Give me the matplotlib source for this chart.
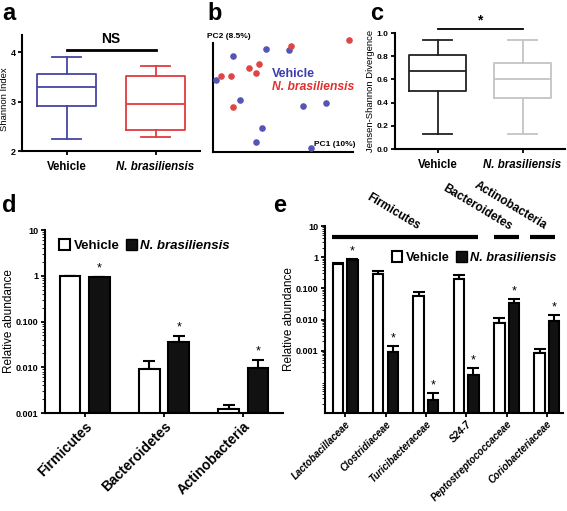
import numpy as np
import matplotlib
matplotlib.use("Agg")
import matplotlib.pyplot as plt
from matplotlib.patches import Patch

plt.rcParams['font.family'] = ['Liberation Sans', 'DejaVu Sans']
plt.rcParams['font.weight'] = 'bold'
plt.rcParams['axes.linewidth'] = 1.5

groups = ["Vehicle", "N. brasiliensis"]

# panel a: Shannon index box stats (whislo, q1, med, q3, whishi)
shannon_vehicle = [2.25, 2.92, 3.30, 3.55, 3.90]
shannon_nb = [2.28, 2.42, 2.96, 3.52, 3.72]

# panel b: PCoA points (PC1, PC2), scaled 0-1
pc_vehicle_x = [0.02, 0.14, 0.38, 0.54, 0.19, 0.35, 0.31, 0.64, 0.81, 0.70]
pc_vehicle_y = [0.64, 0.85, 0.92, 0.91, 0.46, 0.21, 0.09, 0.41, 0.44, 0.04]
pc_nb_x = [0.06, 0.13, 0.26, 0.33, 0.31, 0.56, 0.97, 0.14]
pc_nb_y = [0.68, 0.68, 0.75, 0.78, 0.70, 0.94, 1.00, 0.40]

# panel c: Jensen-Shannon divergence box stats
jsd_vehicle = [0.13, 0.50, 0.67, 0.81, 0.94]
jsd_nb = [0.13, 0.44, 0.60, 0.745, 0.94]

# panel d: phyla
phyla = ["Firmicutes", "Bacteroidetes", "Actinobacteria"]
phyla_vehicle = [1.0, 0.009, 0.0012]
phyla_vehicle_err = [0.0, 0.0045, 0.0003]
phyla_nb = [0.93, 0.036, 0.0097]
phyla_nb_err = [0.03, 0.012, 0.0048]

# panel e: families
families = ["Lactobacillaceae", "Clostridiaceae", "Turicibacteraceae", "S24-7",
            "Peptostreptococcaceae", "Coriobacteriaceae"]
fam_vehicle = [0.62, 0.28, 0.055, 0.20, 0.008, 0.00085]
fam_vehicle_err = [0.04, 0.09, 0.02, 0.06, 0.0035, 0.00025]
fam_nb = [0.82, 0.0009, 0.000026, 0.00017, 0.033, 0.0092]
fam_nb_err = [0.06, 0.0005, 0.000019, 0.00011, 0.013, 0.0048]

fig = plt.figure(figsize=(5.67, 5.11), dpi=100)
W, H = 567, 511


def add_ax(x0, y0, x1, y1):
    return fig.add_axes([x0 / W, 1 - y1 / H, (x1 - x0) / W, (y1 - y0) / H])


def style(ax):
    ax.spines['top'].set_visible(False)
    ax.spines['right'].set_visible(False)
    ax.tick_params(width=1.3, length=3, labelsize=7, pad=1.5)


def boxes(ax, stats, colors):
    st = [dict(whislo=s[0], q1=s[1], med=s[2], q3=s[3], whishi=s[4], fliers=[]) for s in stats]
    for i, (s, c) in enumerate(zip(st, colors)):
        ax.bxp([s], positions=[i], widths=0.66, showfliers=False,
               boxprops=dict(color=c, lw=1.3), medianprops=dict(color=c, lw=1.3),
               whiskerprops=dict(color=c, lw=1.3), capprops=dict(color=c, lw=1.3))
    ax.set_xlim(-0.5, 1.5)
    ax.set_xticks([0, 1])
    ax.set_xticklabels(groups, fontsize=8.3)
    ax.tick_params(axis='x', pad=4)
    ax.get_xticklabels()[1].set_style('italic')


# ---- a
ax = add_ax(22, 35, 200, 151)
style(ax)
boxes(ax, [shannon_vehicle, shannon_nb], ['#4545a5', '#e23b3b'])
ax.set_ylim(2, 4.35)
ax.set_yticks([2, 3, 4])
ax.tick_params(axis='y', labelsize=6.5)
ax.set_ylabel("Shannon Index", fontsize=6.8)
ax.yaxis.set_label_coords(-0.072, 0.45)
ax.plot([0, 1], [4.05, 4.05], color='k', lw=2, clip_on=False)
ax.text(0.5, 4.12, "NS", ha='center', va='bottom', fontsize=10)

# ---- b
ax = add_ax(213, 43, 353, 152)
ax.scatter(pc_vehicle_x, pc_vehicle_y, s=14, color='#5555b5', clip_on=False, zorder=3)
ax.scatter(pc_nb_x, pc_nb_y, s=14, color='#e04545', clip_on=False, zorder=3)
ax.set_xlim(0, 1)
ax.set_ylim(0, 0.97)
ax.spines['top'].set_visible(False)
ax.spines['right'].set_visible(False)
ax.set_xticks([])
ax.set_yticks([])
ax.text(-0.04, 1.03, "PC2 (8.5%)", transform=ax.transAxes, fontsize=6, ha='left', va='bottom')
ax.text(1.02, 0.04, "PC1 (10%)", transform=ax.transAxes, fontsize=6, ha='right', va='bottom')
ax.text(0.42, 0.69, "Vehicle", transform=ax.transAxes, fontsize=9, color='#3c3caa')
ax.text(0.42, 0.57, "N. brasiliensis", transform=ax.transAxes, fontsize=8.7,
        color='#e03030', style='italic')

# ---- c
ax = add_ax(395, 33, 565, 149)
style(ax)
boxes(ax, [jsd_vehicle, jsd_nb], ['#222222', '#c4c4c4'])
ax.set_ylim(0, 1.0)
ax.set_yticks(np.arange(0, 1.01, 0.2))
ax.set_yticklabels(["0.0", "0.2", "0.4", "0.6", "0.8", "1.0"], fontsize=6)
ax.set_ylabel("Jensen-Shannon Divergence", fontsize=6.8, labelpad=1)
ax.plot([0, 1], [1.035, 1.035], color='k', lw=1.3, clip_on=False)
ax.text(0.5, 1.05, "*", ha='center', va='bottom', fontsize=10)


def bars(ax, labels, v, ve, n, ne, w, off):
    x = np.arange(len(labels))
    ax.bar(x - off, v, w, color='white', edgecolor='k', lw=1.5, zorder=2)
    ax.bar(x + off, n, w, color='#111111', edgecolor='k', lw=1.5, zorder=2)
    ax.errorbar(x - off, v, yerr=[np.zeros(len(v)), ve], fmt='none', ecolor='k',
                elinewidth=1.5, capsize=4, capthick=1.5, zorder=1)
    ax.errorbar(x + off, n, yerr=[np.zeros(len(n)), ne], fmt='none', ecolor='k',
                elinewidth=1.5, capsize=4, capthick=1.5, zorder=1)
    for xi, top in zip(x + off, np.array(n) + np.array(ne)):
        ax.text(xi, top * 1.12, "*", ha='center', va='bottom', fontsize=9, fontweight='normal')
    ax.set_yscale('log')
    ax.set_xticks(x)
    return x


def legend(ax, anchor, fs):
    h = [Patch(facecolor='white', edgecolor='k', lw=1.5), Patch(facecolor='#111111', edgecolor='k')]
    leg = ax.legend(h, groups, ncol=2, frameon=False, fontsize=fs, handlelength=0.8,
                    handleheight=0.9, handletextpad=0.3, columnspacing=0.5,
                    loc='upper left', bbox_to_anchor=anchor, bbox_transform=fig.transFigure,
                    borderaxespad=0, borderpad=0)
    leg.get_texts()[1].set_style('italic')


ytick_vals = [0.001, 0.01, 0.1, 1, 10]
ytick_labs = ["0.001", "0.010", "0.100", "1", "10"]

# ---- d
ax = add_ax(45, 230, 283, 413)
style(ax)
bars(ax, phyla, phyla_vehicle, phyla_vehicle_err, phyla_nb, phyla_nb_err, 0.26, 0.185)
ax.set_xlim(-0.5, 2.5)
ax.set_ylim(0.001, 10)
ax.set_yticks(ytick_vals)
ax.set_yticklabels(ytick_labs, fontsize=6.5)
ax.set_xticklabels(phyla, rotation=45, ha='right', rotation_mode='anchor', fontsize=10)
ax.set_ylabel("Relative abundance", fontsize=8.5, labelpad=1)
legend(ax, (59 / W, 1 - 239 / H), 9.5)

# ---- e
ax = add_ax(325, 226, 563, 413)
style(ax)
bars(ax, families, fam_vehicle, fam_vehicle_err, fam_nb, fam_nb_err, 0.26, 0.18)
ax.set_xlim(-0.5, 5.4)
ax.set_ylim(1e-5, 10)
ax.set_yticks(ytick_vals)
ax.set_yticklabels(ytick_labs, fontsize=6.5)
ax.set_xticklabels(families, rotation=45, ha='right', rotation_mode='anchor',
                   fontsize=7, style='italic')
ax.set_ylabel("Relative abundance", fontsize=8.5, labelpad=1)
legend(ax, (392 / W, 1 - 251 / H), 9.2)
for (x0, x1) in [(-0.32, 3.29), (3.69, 4.31), (4.58, 5.2)]:
    ax.plot([x0, x1], [4.4, 4.4], color='k', lw=3, clip_on=False, solid_capstyle='butt')
for name, fx, fy in [("Firmicutes", 393, 212), ("Bacteroidetes", 477, 208),
                     ("Actinobacteria", 510, 206)]:
    fig.text(fx / W, 1 - fy / H, name, rotation=-31, ha='center', va='center',
             fontsize=8.5, rotation_mode='anchor')

# panel letters
for letter, fx, fy in [("a", 2, 14), ("b", 207, 14), ("c", 370, 14), ("d", 2, 205), ("e", 273, 205)]:
    fig.text(fx / W, 1 - fy / H, letter, fontsize=17, fontweight='bold', va='center')

fig.savefig("out.png", dpi=100)
